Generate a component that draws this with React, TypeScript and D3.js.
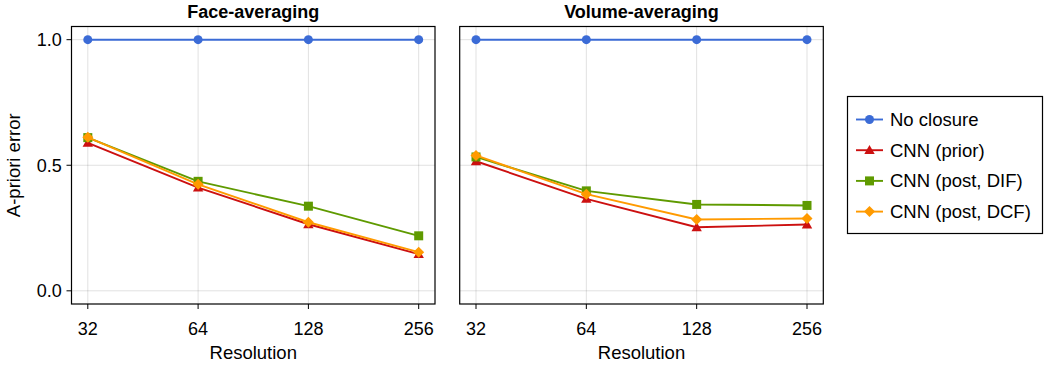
import React from "react";
import * as d3 from "d3";

const resolutions = [32, 64, 128, 256];
const xTickLabels = ["32", "64", "128", "256"];
const yTicks = [0, 0.5, 1.0];
const panelTitles = ["Face-averaging", "Volume-averaging"];
const seriesNames = ["No closure", "CNN (prior)", "CNN (post, DIF)", "CNN (post, DCF)"];
const seriesColors = ["#3b6bd6", "#cc1010", "#5f9a00", "#ff9a00"];
const seriesMarkers = ["circle", "triangle", "square", "diamond"];

const faceNoClosure = [1.0, 1.0, 1.0, 1.0];
const facePrior = [0.589, 0.411, 0.265, 0.146];
const faceDIF = [0.610, 0.436, 0.337, 0.219];
const faceDCF = [0.611, 0.424, 0.273, 0.154];

const volNoClosure = [1.0, 1.0, 1.0, 1.0];
const volPrior = [0.516, 0.366, 0.253, 0.264];
const volDIF = [0.533, 0.398, 0.344, 0.340];
const volDCF = [0.539, 0.385, 0.284, 0.288];

const panelData = [
  [faceNoClosure, facePrior, faceDIF, faceDCF],
  [volNoClosure, volPrior, volDIF, volDCF],
];

const FONT = "'Liberation Sans', Arial, Helvetica, sans-serif";

function Marker({ type, x, y, color }: { type: string; x: number; y: number; color: string }) {
  if (type === "circle") return <circle cx={x} cy={y} r={4.5} fill={color} />;
  if (type === "square") return <rect x={x - 4.5} y={y - 4.5} width={9} height={9} fill={color} />;
  if (type === "triangle") {
    const s = 5.2;
    return <path d={`M${x},${y - s} L${x + s},${y + s * 0.75} L${x - s},${y + s * 0.75}Z`} fill={color} />;
  }
  const s = 5.5;
  return <path d={`M${x},${y - s} L${x + s},${y} L${x},${y + s} L${x - s},${y}Z`} fill={color} />;
}

export default function App() {
  const W = 1056, H = 366;
  const top = 26.5, bottom = 304;
  const panels = [
    { left: 71.5, right: 435 },
    { left: 459.7, right: 823.3 },
  ];
  const y = d3.scaleLinear().domain([-0.0525, 1.0525]).range([bottom, top]);

  return (
    <svg width={W} height={H} style={{ position: "absolute", left: 0, top: 0, fontFamily: FONT }}>
      <rect width={W} height={H} fill="#fff" />
      {panels.map((p, pi) => {
        const x = d3
          .scaleLog()
          .base(2)
          .domain([32, 256])
          .range([p.left + 16.3, p.right - 16.3]);
        const line = d3
          .line<number>()
          .x((_, i) => x(resolutions[i]))
          .y((d) => y(d));
        return (
          <g key={pi}>
            {resolutions.map((r) => (
              <line key={"gx" + r} x1={x(r)} x2={x(r)} y1={top} y2={bottom} stroke="#000" strokeOpacity={0.12} strokeWidth={1} />
            ))}
            {yTicks.map((t) => (
              <line key={"gy" + t} x1={p.left} x2={p.right} y1={y(t)} y2={y(t)} stroke="#000" strokeOpacity={0.12} strokeWidth={1} />
            ))}
            {panelData[pi].map((vals, si) => (
              <g key={si}>
                <path d={line(vals) || ""} fill="none" stroke={seriesColors[si]} strokeWidth={1.9} />
                {vals.map((v, i) => (
                  <Marker key={i} type={seriesMarkers[si]} x={x(resolutions[i])} y={y(v)} color={seriesColors[si]} />
                ))}
              </g>
            ))}
            <rect x={p.left} y={top} width={p.right - p.left} height={bottom - top} fill="none" stroke="#000" strokeWidth={1.2} />
            {resolutions.map((r, i) => (
              <g key={"xt" + r}>
                <line x1={x(r)} x2={x(r)} y1={bottom} y2={bottom + 5} stroke="#000" strokeWidth={1} />
                <text x={x(r)} y={334.5} textAnchor="middle" fontSize={18} fill="#000">
                  {xTickLabels[i]}
                </text>
              </g>
            ))}
            <text x={(p.left + p.right) / 2} y={359} textAnchor="middle" fontSize={18.5} fill="#000">
              Resolution
            </text>
            <text x={(p.left + p.right) / 2} y={17.5} textAnchor="middle" fontSize={18} fontWeight="bold" fill="#000">
              {panelTitles[pi]}
            </text>
            {pi === 0 &&
              yTicks.map((t) => (
                <g key={"yt" + t}>
                  <line x1={p.left - 5} x2={p.left} y1={y(t)} y2={y(t)} stroke="#000" strokeWidth={1} />
                  <text x={61.7} y={y(t) + 6.4} textAnchor="end" fontSize={18} fill="#000">
                    {t.toFixed(1)}
                  </text>
                </g>
              ))}
            {pi === 0 && (
              <text
                transform={`translate(20,${(top + bottom) / 2}) rotate(-90)`}
                textAnchor="middle"
                fontSize={18.5}
                fill="#000"
              >
                A-priori error
              </text>
            )}
          </g>
        );
      })}
      <g>
        <rect x={847.5} y={96.5} width={195} height={137} fill="#fff" stroke="#000" strokeWidth={1.2} />
        {seriesNames.map((n, i) => {
          const ly = 119.5 + i * 30.7;
          return (
            <g key={n}>
              <line x1={856} x2={883} y1={ly} y2={ly} stroke={seriesColors[i]} strokeWidth={1.9} />
              <Marker type={seriesMarkers[i]} x={869.5} y={ly} color={seriesColors[i]} />
              <text x={890} y={ly + 6.4} fontSize={18.5} fill="#000">
                {n}
              </text>
            </g>
          );
        })}
      </g>
    </svg>
  );
}
